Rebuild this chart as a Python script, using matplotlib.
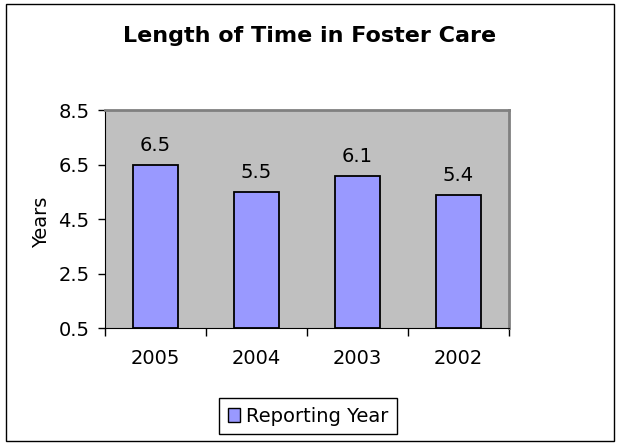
import matplotlib.pyplot as plt
from matplotlib.patches import Rectangle, Patch

# data
years = ["2005", "2004", "2003", "2002"]
values = [6.5, 5.5, 6.1, 5.4]
y_ticks = [0.5, 2.5, 4.5, 6.5, 8.5]

BAR_COLOR = "#9999FF"
PLOT_BG = "#C0C0C0"
SIZE = 14

plt.rcParams["font.family"] = ["DejaVu Sans"]

fig = plt.figure(figsize=(6.23, 4.44), dpi=100)
W, H = 623, 444
ax = fig.add_axes([105 / W, 1 - 328 / H, (509 - 105) / W, (328 - 110.5) / H])
ax.set_facecolor(PLOT_BG)

x = list(range(len(years)))
ax.bar(x, [v - 0.5 for v in values], bottom=0.5, width=0.44,
       color=BAR_COLOR, edgecolor="black", linewidth=1.3)

for xi, v in zip(x, values):
    ax.annotate(f"{v:.1f}", (xi, v), xytext=(0, 10), textcoords="offset points",
                ha="center", va="baseline", fontsize=SIZE)

ax.set_xlim(-0.5, len(years) - 0.5)
ax.set_ylim(0.5, 8.5)
ax.set_yticks(y_ticks)
ax.set_yticklabels([f"{t:.1f}" for t in y_ticks], fontsize=SIZE)
ax.set_xticks([i - 0.5 for i in range(len(years) + 1)])
ax.set_xticklabels([])
ax.set_xticks(x, minor=True)
ax.set_xticklabels(years, minor=True, fontsize=SIZE)
ax.tick_params(axis="x", which="minor", length=0, pad=15)
ax.tick_params(axis="x", which="major", length=6, direction="out", width=1)
ax.tick_params(axis="y", length=5.3, direction="out", pad=6, width=1)

for s in ["top", "right"]:
    ax.spines[s].set_color("#808080")
    ax.spines[s].set_linewidth(2)
ax.spines["left"].set_color("black")
ax.spines["bottom"].set_color("black")

ax.set_ylabel("Years", fontsize=14)
ax.yaxis.set_label_coords(51 / W, 0.5, transform=fig.transFigure)

fig.text(310 / W, 1 - 36 / H, "Length of Time in Foster Care",
         ha="center", va="center", fontsize=16, fontweight="bold")

handle = Patch(facecolor=BAR_COLOR, edgecolor="black", linewidth=1)
fig.legend([handle], ["Reporting Year"], loc="center",
           bbox_to_anchor=(308 / W, 1 - 416 / H), fontsize=SIZE,
           frameon=True, fancybox=False, edgecolor="black", framealpha=1,
           handlelength=0.6, handleheight=0.7, handletextpad=0.3,
           borderpad=0.45, borderaxespad=0)

fig.patches.append(Rectangle((5.5 / W, 3.5 / H), (614 - 5.5) / W, (440 - 3.5) / H,
                             transform=fig.transFigure, fill=False,
                             edgecolor="black", linewidth=1))

fig.savefig("out.png", dpi=100)
